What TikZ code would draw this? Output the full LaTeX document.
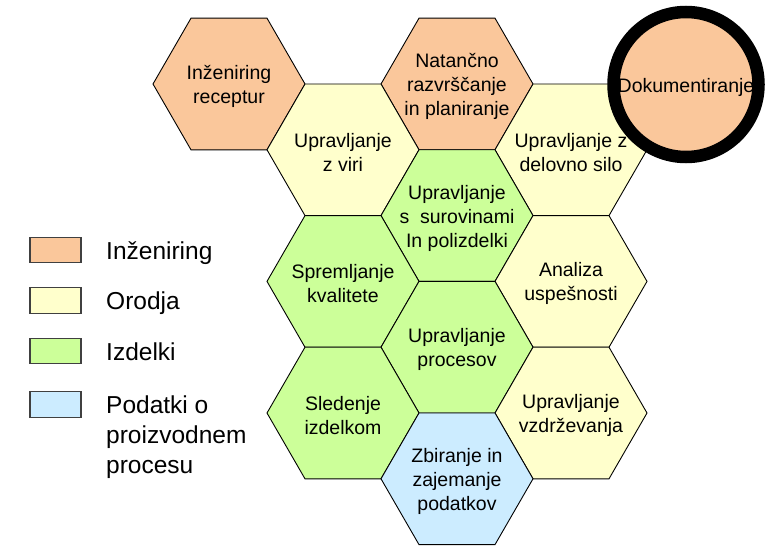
\documentclass[tikz,border=0pt]{standalone}
\usepackage{fontspec}
\setmainfont{Liberation Sans}
\definecolor{cInz}{RGB}{250,199,155}
\definecolor{cOro}{RGB}{255,255,204}
\definecolor{cIzd}{RGB}{204,255,153}
\definecolor{cPod}{RGB}{204,236,255}
\definecolor{cEdge}{RGB}{64,64,64}
\begin{document}
\begin{tikzpicture}[x=1pt,y=-1pt,
  hexcell/.style={draw=black, line width=0.9pt, line join=miter},
  hexagon/.pic={\path[hexcell,pic actions] (0:76) -- (60:76) -- (120:76) -- (180:76) -- (240:76) -- (300:76) -- cycle;},
  hexlabel/.style={align=center, font=\fontsize{19.5}{24}\selectfont, inner sep=0pt, yshift=-2.5pt},
  docring/.style={circle, draw=black, line width=12.5pt, minimum size=145pt, inner sep=0pt, fill=cInz},
  legbox/.style={draw=cEdge, line width=1.2pt, minimum width=51pt, minimum height=25.5pt, inner sep=0pt},
  legtext/.style={anchor=base west, align=left, font=\fontsize{24.5}{30}\selectfont, inner sep=0pt}]
\useasboundingbox[fill=white] (0,0) rectangle (776,546);

% cell centres of the honeycomb
\coordinate (rec) at (229,84);
\coordinate (nat) at (457,84);
\coordinate (vir) at (343,149.8);
\coordinate (sil) at (571,149.8);
\coordinate (sur) at (457,215.6);
\coordinate (kva) at (343,281.4);
\coordinate (ana) at (571,281.4);
\coordinate (pro) at (457,347.2);
\coordinate (sle) at (343,413);
\coordinate (vzd) at (571,413);
\coordinate (zbi) at (457,478.8);

% cells
\pic[fill=cInz] at (rec) {hexagon};
\pic[fill=cInz] at (nat) {hexagon};
\pic[fill=cOro] at (vir) {hexagon};
\pic[fill=cOro] at (sil) {hexagon};
\pic[fill=cIzd] at (sur) {hexagon};
\pic[fill=cIzd] at (kva) {hexagon};
\pic[fill=cOro] at (ana) {hexagon};
\pic[fill=cIzd] at (pro) {hexagon};
\pic[fill=cIzd] at (sle) {hexagon};
\pic[fill=cOro] at (vzd) {hexagon};
\pic[fill=cPod] at (zbi) {hexagon};

% cell labels
\node[hexlabel] (trec) at (rec) {Inženiring\\receptur};
\node[hexlabel] (tnat) at (nat) {Natančno\\razvrščanje\\in planiranje};
\node[hexlabel] (tvir) at (vir) {Upravljanje\\z viri};
\node[hexlabel] (tsil) at (sil) {Upravljanje z\\delovno silo};
\node[hexlabel] (tsur) at (sur) {Upravljanje\\s\ \ surovinami\\In polizdelki};
\node[hexlabel] (tkva) at (kva) {Spremljanje\\kvalitete};
\node[hexlabel] (tana) at (ana) {Analiza\\uspešnosti};
\node[hexlabel] (tpro) at (pro) {Upravljanje\\procesov};
\node[hexlabel] (tsle) at (sle) {Sledenje\\izdelkom};
\node[hexlabel] (tvzd) at (vzd) {Upravljanje\\vzdrževanja};
\node[hexlabel] (tzbi) at (zbi) {Zbiranje in\\zajemanje\\podatkov};

% highlighted documentation cell
\node[docring] (dok) at (686,84.5) {};
\node[hexlabel] (tdok) at (dok) {Dokumentiranje};

% legend
\node[legbox, fill=cInz] (l1) at (55.5,250) {};
\node[legbox, fill=cOro] (l2) at (55.5,300.5) {};
\node[legbox, fill=cIzd] (l3) at (55.5,351) {};
\node[legbox, fill=cPod] (l4) at (55.5,404.5) {};
\node[legtext] (lt1) at (106,259) {Inženiring};
\node[legtext] (lt2) at (106,309.5) {Orodja};
\node[legtext] (lt3) at (106,360) {Izdelki};
\node[legtext] (lt4) at (106,473.5) {Podatki o\\proizvodnem\\procesu};
\end{tikzpicture}
\end{document}
